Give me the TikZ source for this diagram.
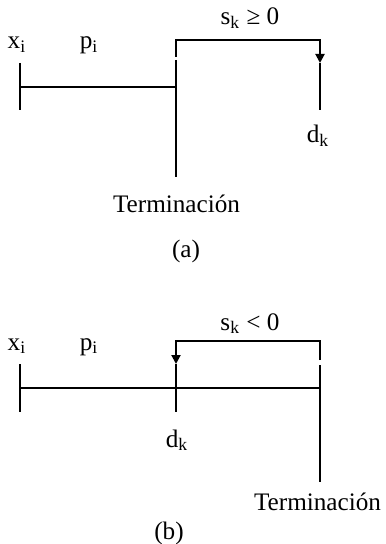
\documentclass[tikz,border=0pt]{standalone}
\usepackage{fontspec}
\setmainfont{Liberation Serif}
\usetikzlibrary{positioning,arrows.meta}

\begin{document}
\begin{tikzpicture}[x=0.5pt,y=-0.5pt,font=\fontsize{12.6}{15}\selectfont,
  bar/.style={line width=1pt},
  lbl/.style={inner sep=0pt,anchor=base},
  jump/.style={bar,-{Triangle[width=4.5pt,length=4.5pt]}}]
\useasboundingbox (0,0) rectangle (385,544);
% (a)
\coordinate (aL1) at (20,63);
\coordinate (aL2) at (20,110);
\coordinate (aH) at (20,87);
\coordinate (aT1) at (176,60);
\coordinate (aT2) at (176,177);
\coordinate (aB) at (176,57);
\coordinate (aD1) at (320,63);
\coordinate (aD2) at (320,110);
\node[lbl] (xiA) at (17,49) {x\textsubscript{i}};
\node[lbl] (piA) at (89,49) {p\textsubscript{i}};
\node[lbl] (skA) at (250,25) {s\textsubscript{k} ≥ 0};
\node[lbl] (dkA) at (318,143) {d\textsubscript{k}};
\node[lbl] (termA) at (176.5,213) {Terminación};
\node[lbl] (capA) at (186,258) {(a)};
\draw[bar] (aL1) -- (aL2);
\draw[bar] (aH) -- (aH -| aT1);
\draw[bar] (aT1) -- (aT2);
\draw[jump] (aB) -- (176,40) -| (aD1);
\draw[bar] (aD1) -- (aD2);
% (b)
\coordinate (bL1) at (20,364);
\coordinate (bL2) at (20,412);
\coordinate (bH) at (20,388);
\coordinate (bR) at (320,388);
\coordinate (bB) at (320,360);
\coordinate (bD1) at (176,364);
\coordinate (bD2) at (176,412);
\coordinate (bT1) at (320,365);
\coordinate (bT2) at (320,482);
\node[lbl] (xiB) at (17,350) {x\textsubscript{i}};
\node[lbl] (piB) at (89,350) {p\textsubscript{i}};
\node[lbl] (skB) at (250,330) {s\textsubscript{k} < 0};
\node[lbl] (dkB) at (177,447) {d\textsubscript{k}};
\node[lbl] (termB) at (317.5,510) {Terminación};
\node[lbl] (capB) at (169,539) {(b)};
\draw[bar] (bL1) -- (bL2);
\draw[bar] (bH) -- (bR);
\draw[jump] (bB) -- (320,341) -| (bD1);
\draw[bar] (bD1) -- (bD2);
\draw[bar] (bT1) -- (bT2);
\end{tikzpicture}
\end{document}
